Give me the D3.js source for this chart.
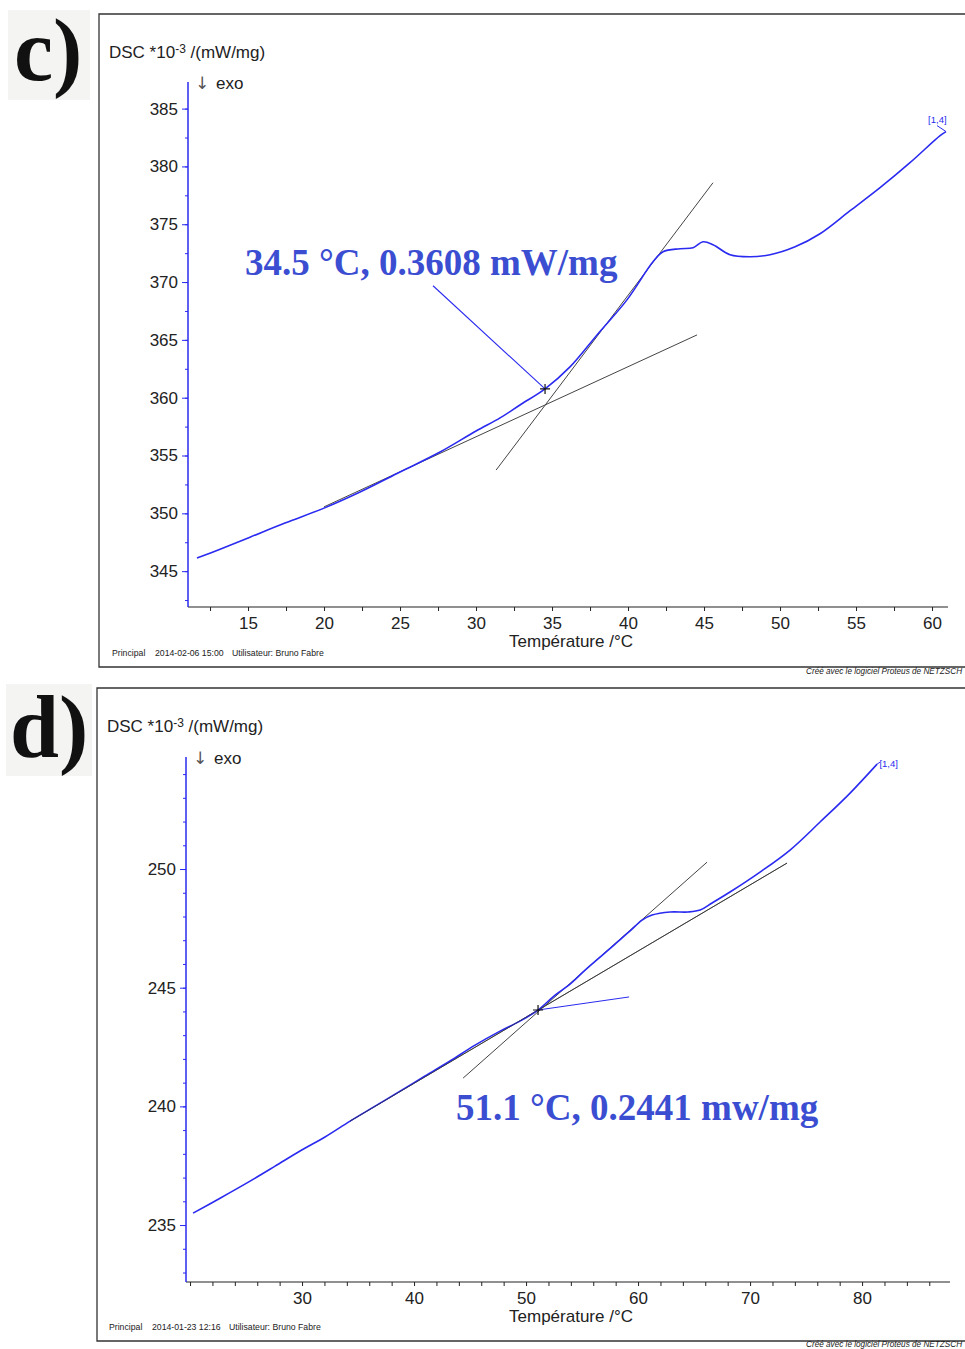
<!DOCTYPE html>
<html><head><meta charset="utf-8">
<script src="https://cdn.jsdelivr.net/npm/d3@7"></script>
<style>
html,body{margin:0;padding:0;background:#fff;}
svg{display:block;}
</style>
</head><body>
<svg id="chart" width="965" height="1349"></svg>
<script>
// ---------- Panel c data ----------
const cTemp = [11.64,13.16,15.13,17.43,20.0,22.37,25.0,27.63,30.0,31.58,32.89,34.54,36.18,37.96,39.93,41.64,42.30,43.42,44.28,44.93,45.59,46.71,48.03,49.34,50.99,52.63,54.61,56.58,58.55,60.53,60.92];
const cDsc  = [346.13,346.90,347.94,349.16,350.45,351.84,353.57,355.30,357.12,358.25,359.37,360.76,362.66,365.43,368.46,371.75,372.62,372.88,372.97,373.48,373.23,372.36,372.19,372.36,373.05,374.18,376.17,378.16,380.32,382.66,383.01];
const cXTicks = [15,20,25,30,35,40,45,50,55,60];
const cYTicks = [345,350,355,360,365,370,375,380,385];
const cTangentSteep = [[31.32,353.74],[45.59,378.59]];
const cTangentBase  = [[20.0,350.56],[44.54,365.43]];
const cOnset = [34.54,360.76];
const cLabel = "34.5 °C, 0.3608 mW/mg";

// ---------- Panel d data ----------
const dTemp = [20.27,22.68,25.36,27.59,29.82,32.05,34.29,36.52,38.75,40.98,43.21,45.45,47.68,49.46,51.07,52.59,53.93,55.27,56.61,57.95,59.29,60.36,61.25,62.86,64.46,65.54,66.61,68.21,70.89,73.57,76.25,78.93,81.34];
const dDsc  = [235.50,236.13,236.85,237.48,238.12,238.71,239.38,240.01,240.64,241.28,241.91,242.58,243.17,243.59,244.06,244.69,245.15,245.74,246.29,246.84,247.39,247.85,248.06,248.19,248.19,248.27,248.57,249.03,249.87,250.80,251.98,253.20,254.42];
const dXTicks = [30,40,50,60,70,80];
const dYTicks = [235,240,245,250];
const dTangentSteep = [[44.38,241.19],[66.16,250.29]];
const dTangentBase  = [[34.29,239.38],[73.30,250.25]];
const dOnset = [51.07,244.06];
const dBlueMark = [[51.07,244.06],[59.2,244.61]];
const dLabel = "51.1 °C, 0.2441 mw/mg";

const panels = [
  {letter:"c)", temp:cTemp, dsc:cDsc, xTicks:cXTicks, yTicks:cYTicks, xMinorStep:2.5, yMinorStep:2.5,
   xDom:[11.05,61.05], yDom:[341.9,387.3], xRange:[188,948], yRange:[607,82],
   steep:cTangentSteep, base:cTangentBase, onset:cOnset, label:cLabel,
   labelPos:[14.8,370.63], leaderFrom:[27.17,369.68], blueMark:null,
   frame:{left:99, top:14, bottom:667},
   footer:["Principal","2014-02-06 15:00","Utilisateur: Bruno Fabre"], footerX:[112,155,232],
   endTag:{from:[60.92,383.01], to:[60.33,383.53], at:[59.74,383.75]},
   letterBox:[8,10,82,90], letterX:14, letterY:80, creditY:674},
  {letter:"d)", temp:dTemp, dsc:dDsc, xTicks:dXTicks, yTicks:dYTicks, xMinorStep:2, yMinorStep:1,
   xDom:[19.64,87.85], yDom:[232.6,254.72], xRange:[186,950], yRange:[1282,757],
   steep:dTangentSteep, base:dTangentBase, onset:dOnset, label:dLabel,
   labelPos:[43.75,239.42], leaderFrom:null, blueMark:dBlueMark,
   frame:{left:97, top:688, bottom:1341},
   footer:["Principal","2014-01-23 12:16","Utilisateur: Bruno Fabre"], footerX:[109,152,229],
   endTag:{from:[81.34,254.42], to:[81.6,254.5], at:[81.55,254.3]},
   letterBox:[6,684,86,92], letterX:10, letterY:757, creditY:1346.5}
];

const svg = d3.select("#chart");
const sans = "'Liberation Sans', Arial, sans-serif";
const serif = "'Liberation Serif', 'Times New Roman', serif";
const blue = "#2a2af0";
const annBlue = "#3b4ed2";

panels.forEach(p => {
  const g = svg.append("g");
  const x = d3.scaleLinear().domain(p.xDom).range(p.xRange);
  const y = d3.scaleLinear().domain(p.yDom).range(p.yRange);

  // letter label
  g.append("rect").attr("x",p.letterBox[0]).attr("y",p.letterBox[1]).attr("width",p.letterBox[2]).attr("height",p.letterBox[3]).attr("fill","#f4f4f2");
  g.append("text").attr("x",p.letterX).attr("y",p.letterY).attr("font-family",serif).attr("font-weight","bold")
    .attr("font-size",88).attr("fill","#111").text(p.letter);

  // frame
  const f = p.frame;
  g.append("path").attr("d",`M965,${f.top}H${f.left}V${f.bottom}H965`).attr("fill","none").attr("stroke","#333").attr("stroke-width",1.3);
  g.append("text").attr("x",806).attr("y",p.creditY).attr("font-family",sans).attr("font-style","italic")
    .attr("font-size",8.2).attr("fill","#222").text("Créé avec le logiciel Proteus de NETZSCH");
  p.footer.forEach((t,i) => g.append("text").attr("x",p.footerX[i]).attr("y",f.bottom-11).attr("font-family",sans)
    .attr("font-size",8.7).attr("fill","#222").text(t));

  // DSC title
  const tt = g.append("text").attr("x",f.left+10).attr("y",f.top+44).attr("font-family",sans).attr("font-size",17).attr("fill","#222");
  tt.append("tspan").text("DSC *10");
  tt.append("tspan").attr("dy",-5).attr("font-size",12).text("-3");
  tt.append("tspan").attr("dy",5).text(" /(mW/mg)");
  g.append("text").attr("x",p.xRange[0]+7).attr("y",p.yRange[1]+7).attr("font-family","'DejaVu Sans', sans-serif").attr("font-size",17).attr("fill","#555").text("↓");
  g.append("text").attr("x",p.xRange[0]+28).attr("y",p.yRange[1]+7).attr("font-family",sans).attr("font-size",17).attr("fill","#222").text("exo");

  // X axis
  const xMinor = d3.range(Math.ceil(p.xDom[0]/p.xMinorStep)*p.xMinorStep, p.xDom[1], p.xMinorStep);
  const xAxis = d3.axisBottom(x).tickValues(xMinor).tickSize(4).tickFormat("");
  const xa = g.append("g").attr("transform",`translate(0,${p.yRange[0]})`).call(xAxis);
  xa.select(".domain").attr("stroke","#222").attr("stroke-width",1.2).attr("d",`M${p.xRange[0]},0H${p.xRange[1]}`);
  xa.selectAll(".tick line").attr("stroke","#222");
  const xl = g.append("g").attr("transform",`translate(0,${p.yRange[0]})`)
    .call(d3.axisBottom(x).tickValues(p.xTicks).tickSize(0).tickPadding(10).tickFormat(d3.format("d")));
  xl.select(".domain").remove();
  xl.selectAll("text").attr("font-family",sans).attr("font-size",17).attr("fill","#222");
  g.append("text").attr("x",(p.xRange[0]+p.xRange[1])/2+3).attr("y",p.yRange[0]+40).attr("text-anchor","middle")
    .attr("font-family",sans).attr("font-size",17).attr("fill","#222").text("Température /°C");

  // Y axis
  const yMinor = d3.range(Math.ceil(p.yDom[0]/p.yMinorStep)*p.yMinorStep, p.yDom[1], p.yMinorStep);
  const ya = g.append("g").attr("transform",`translate(${p.xRange[0]},0)`)
    .call(d3.axisLeft(y).tickValues(yMinor).tickSize(3).tickFormat(""));
  ya.select(".domain").attr("stroke",blue).attr("stroke-width",1.5).attr("d",`M0,${p.yRange[0]}V${p.yRange[1]}`);
  ya.selectAll(".tick line").attr("stroke",blue);
  const yl = g.append("g").attr("transform",`translate(${p.xRange[0]},0)`)
    .call(d3.axisLeft(y).tickValues(p.yTicks).tickSize(6).tickPadding(4).tickFormat(d3.format("d")));
  yl.select(".domain").remove();
  yl.selectAll(".tick line").attr("stroke",blue);
  yl.selectAll("text").attr("font-family",sans).attr("font-size",17).attr("fill","#222");

  // tangents
  const ln = d3.line().x(d=>x(d[0])).y(d=>y(d[1]));
  [p.steep,p.base].forEach(t => g.append("path").attr("d",ln(t)).attr("fill","none").attr("stroke","#444").attr("stroke-width",1));

  // curve
  const pts = p.temp.map((t,i)=>[t,p.dsc[i]]);
  g.append("path").attr("d",d3.line().x(d=>x(d[0])).y(d=>y(d[1])).curve(d3.curveCatmullRom)(pts))
    .attr("fill","none").attr("stroke",blue).attr("stroke-width",1.6);

  if (p.blueMark) {
    g.append("path").attr("d",ln(p.base)).attr("fill","none").attr("stroke","#333").attr("stroke-width",0.9).attr("opacity",0.7);
    g.append("path").attr("d",ln(p.blueMark)).attr("fill","none").attr("stroke",blue).attr("stroke-width",1);
  }

  // end tag
  g.append("path").attr("d",ln([p.endTag.from,p.endTag.to])).attr("fill","none").attr("stroke",blue).attr("stroke-width",1);
  g.append("text").attr("x",x(p.endTag.at[0])).attr("y",y(p.endTag.at[1])).attr("font-family",sans).attr("font-size",9.5).attr("fill",blue).text("[1,4]");

  // leader
  if (p.leaderFrom) {
    g.append("path").attr("d",ln([p.leaderFrom,p.onset])).attr("fill","none").attr("stroke",blue).attr("stroke-width",1.1);
  }
  // onset cross
  const ox = x(p.onset[0]), oy = y(p.onset[1]);
  g.append("path").attr("d",`M${ox-5},${oy}H${ox+5}M${ox},${oy-5}V${oy+5}`).attr("stroke","#111").attr("stroke-width",1.2);

  // annotation
  g.append("text").attr("x",x(p.labelPos[0])).attr("y",y(p.labelPos[1])).attr("font-family",serif).attr("font-weight","bold")
    .attr("font-size",37).attr("fill",annBlue).text(p.label);
});
</script>
</body></html>
